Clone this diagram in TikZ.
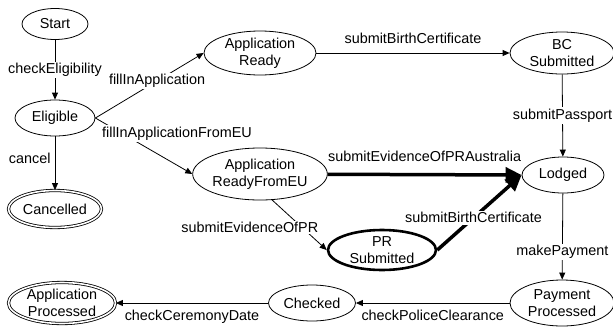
\documentclass[tikz,border=0pt]{standalone}
\usepackage{fontspec}
\setmainfont{Liberation Sans}
\usetikzlibrary{shapes.geometric, arrows.meta}

\begin{document}
\begin{tikzpicture}[x=1pt, y=-1pt,
    font=\fontsize{14.4pt}{17pt}\selectfont,
    state/.style={ellipse, draw, line width=0.8pt, inner sep=0pt, align=center},
    final/.style={state, double, double distance=1.6pt},
    lbl/.style={fill=white, inner sep=1.5pt},
    tr/.style={-{Triangle[length=7pt, width=6pt]}, line width=0.8pt},
    bigtr/.style={-{Triangle[length=16pt, width=15pt]}, line width=3.5pt}]
    \useasboundingbox (0,0) rectangle (613,327);

    % states
    \node[state, minimum width=66pt, minimum height=31pt] (start) at (55,24) {Start};
    \node[state, minimum width=80pt, minimum height=36pt] (eligible) at (55,118) {Eligible};
    \node[final, minimum width=93pt, minimum height=37pt] (cancelled) at (55,209) {Cancelled};
    \node[state, minimum width=112pt, minimum height=44pt] (appready) at (260,53) {Application\\Ready};
    \node[state, minimum width=104pt, minimum height=42pt] (bcsub) at (562,53) {BC\\Submitted};
    \node[state, minimum width=122pt, minimum height=52pt] (appreadyeu) at (260,174) {Application\\ReadyFromEU};
    \node[state, minimum width=82pt, minimum height=36pt] (lodged) at (563,175) {Lodged};
    \node[state, line width=2.6pt, minimum width=108pt, minimum height=40pt] (prsub) at (382,250) {PR\\Submitted};
    \node[state, minimum width=104pt, minimum height=46pt] (payproc) at (562,303) {Payment\\Processed};
    \node[state, minimum width=87pt, minimum height=36pt] (checked) at (312,303) {Checked};
    \node[final, minimum width=107pt, minimum height=41pt] (appproc) at (62,303) {Application\\Processed};

    % transitions
    \draw[tr] (start) -- node[lbl] {checkEligibility} (eligible);
    \draw[tr] (eligible) -- node[left, pos=0.4, inner sep=4pt] {cancel} (cancelled);
    \draw[tr] (eligible.east) -- node[lbl, pos=0.57] {fillInApplication} (appready.west);
    \draw[tr] (eligible.east) -- node[lbl, pos=0.05, anchor=north west, yshift=-4pt] {fillInApplicationFromEU} (appreadyeu.west);
    \draw[tr] (appready) -- node[above=6pt] {submitBirthCertificate} (bcsub);
    \draw[tr] (bcsub) -- node[lbl] {submitPassport} (lodged);
    \draw[bigtr] (appreadyeu) -- node[above=8pt] {submitEvidenceOfPRAustralia} (lodged.west);
    \draw[tr] (appreadyeu.-65) -- node[lbl, pos=0.55, anchor=east, xshift=18pt] {submitEvidenceOfPR} (prsub.west);
    \draw[bigtr] (prsub.east) -- node[lbl, pos=0.43] {submitBirthCertificate} (lodged.west);
    \draw[tr] (lodged) -- node[lbl, pos=0.68] {makePayment} (payproc);
    \draw[tr] (payproc) -- node[below=3pt] {checkPoliceClearance} (checked);
    \draw[tr] (checked) -- node[below=3pt] {checkCeremonyDate} (appproc);
\end{tikzpicture}
\end{document}
